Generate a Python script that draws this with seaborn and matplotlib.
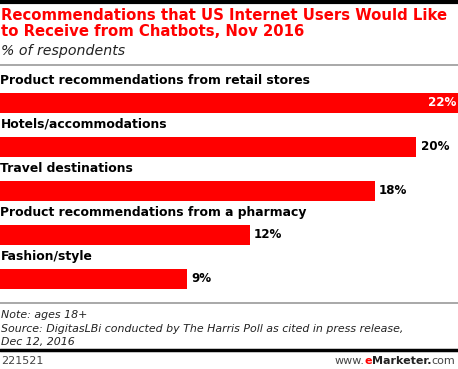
import matplotlib
matplotlib.use("Agg")
import matplotlib.pyplot as plt
import seaborn as sns
import pandas as pd
from matplotlib.lines import Line2D

# ---------------------- DATA ----------------------
categories = [
    "Product recommendations from retail stores",
    "Hotels/accommodations",
    "Travel destinations",
    "Product recommendations from a pharmacy",
    "Fashion/style",
]
values = [22, 20, 18, 12, 9]

df = pd.DataFrame({"Category": categories, "Pct": values})

# ---------------------- FIGURE ----------------------
W, H = 458, 369
fig = plt.figure(figsize=(W / 100, H / 100), dpi=100)
sns.set_style("white")
plt.rcParams["font.family"] = ["DejaVu Sans"]

def fy(px):
    return 1 - px / H

# axes: bars centred at ~103 .. 279 px
ax = fig.add_axes([0, fy(301), 1, (301 - 81) / H])
sns.barplot(data=df, x="Pct", y="Category", orient="h", color="#ff0000",
            width=0.45, saturation=1, linewidth=0, ax=ax)
ax.set_xlim(0, 22)
ax.set_ylim(4.5, -0.5)
ax.axis("off")

for i, (cat, v) in enumerate(zip(categories, values)):
    ax.text(0.02, i - 0.52, cat, ha="left", va="center", fontsize=8.9,
            fontweight="bold", color="#000000", clip_on=False)
    if v >= max(values):
        ax.text(v - 0.1, i, f"{v}%", ha="right", va="center", fontsize=8.6,
                fontweight="bold", color="white")
    else:
        ax.text(v + 0.2, i, f"{v}%", ha="left", va="center", fontsize=8.6,
                fontweight="bold", color="#000000")

# ---------------------- TEXT ----------------------
fig.text(0.002, fy(16), "Recommendations that US Internet Users Would Like",
         ha="left", va="center", fontsize=10.7, fontweight="bold", color="#ff0000")
fig.text(0.002, fy(32), "to Receive from Chatbots, Nov 2016",
         ha="left", va="center", fontsize=10.7, fontweight="bold", color="#ff0000")
fig.text(0.002, fy(51), "% of respondents", ha="left", va="center",
         fontsize=10.2, style="italic", color="#222222")

note_kw = dict(ha="left", va="center", fontsize=7.9, style="italic", color="#222222")
fig.text(0.002, fy(315), "Note: ages 18+", **note_kw)
fig.text(0.002, fy(329),
         "Source: DigitasLBi conducted by The Harris Poll as cited in press release,",
         **note_kw)
fig.text(0.002, fy(342), "Dec 12, 2016", **note_kw)

fig.text(0.002, fy(361), "221521", ha="left", va="center", fontsize=8, color="#444444")

# footer brand, laid out right to left
renderer = fig.canvas.get_renderer()
x = 455 / W
pieces = [("com", "normal", "#444444"), ("Marketer.", "bold", "#222222"),
          ("e", "bold", "#ff0000"), ("www.", "normal", "#444444")]
for s, w, c in pieces:
    t = fig.text(x, fy(361), s, ha="right", va="center", fontsize=8,
                 fontweight=w, color=c)
    bb = t.get_window_extent(renderer)
    x -= bb.width / W

# ---------------------- RULES ----------------------
fig.add_artist(Line2D([0, 1], [fy(1.5), fy(1.5)], color="black", lw=3))
fig.add_artist(Line2D([0, 1], [fy(64.5), fy(64.5)], color="#999999", lw=1.2))
fig.add_artist(Line2D([0, 1], [fy(303), fy(303)], color="#999999", lw=1.2))
fig.add_artist(Line2D([0, 1], [fy(350), fy(350)], color="black", lw=2.5))

fig.savefig("out.png", dpi=100, facecolor="white")
